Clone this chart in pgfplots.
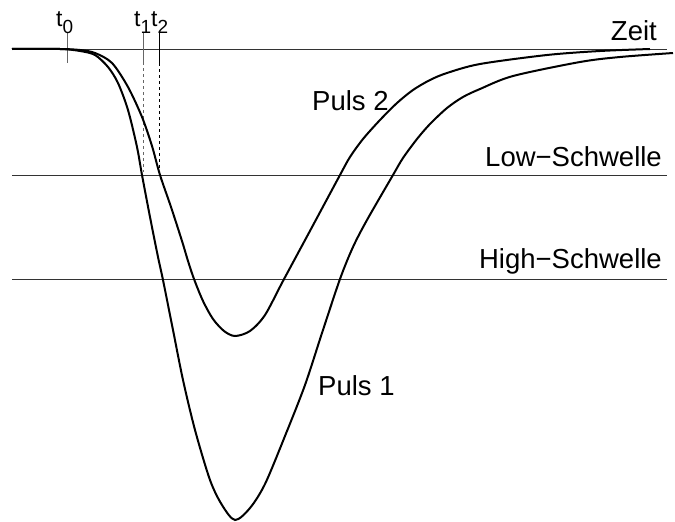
\documentclass[border=0pt]{standalone}
\usepackage{pgfplots}
\pgfplotsset{compat=1.18}
\usepackage{fontspec}
\setmainfont{Liberation Sans}

% pulse shapes in pixel units (y grows downwards)
\pgfplotstableread{
x y
12 49
60 49
80 51
95 55
108 67
118 83
128 110
137 147
142 175
150 217
158 257
163 280
173 330
183 380
195 430
210 480
222 505
235 520
250 508
265 484
285 436
305 385
322 333
340 279
353 247
367 220
393 175
403 158
417 139
430 124
447 108
463 97
480 89
513 76
580 62
620 57
673 53
}\pulseone

\pgfplotstableread{
x y
12 49
60 49
80 50
95 53
112 63
128 87
142 117
152 146
160 175
171 207
182 241
188 261
194 279
203 301
213 319
224 331
235 336
250 331
265 315
283 281
311 229
340 175
350 157
363 139
380 120
397 103
413 90
430 80
447 73
480 64
547 55
600 51
650 49
}\pulsetwo

\begin{document}
\begin{tikzpicture}[
  tl/.style={anchor=base west, inner sep=0pt, font=\fontsize{23}{25}\selectfont},
  lb/.style={inner sep=0pt, font=\fontsize{27.5}{30}\selectfont},
]
\begin{axis}[
  width=675pt, height=522pt, scale only axis,
  xmin=0, xmax=675, ymin=0, ymax=522, y dir=reverse,
  hide axis, clip=false,
]
\path (axis cs:0,0) rectangle (axis cs:675,522);

% thresholds and time axis
\addplot[black!80, line width=1pt] coordinates {(12,49) (667,49)};
\addplot[black!80, line width=1pt] coordinates {(12,175) (667,175)};
\addplot[black!80, line width=1pt] coordinates {(12,279) (667,279)};

% time marks
\addplot[black!60, line width=1pt] coordinates {(67,33) (67,63)};
\addplot[black!60, line width=1pt] coordinates {(143,33) (143,62)};
\addplot[black!60, line width=1pt, dashed] coordinates {(143,62) (143,172)};
\addplot[black, line width=1pt] coordinates {(159,33) (159,63)};
\addplot[black, line width=1pt, dashed] coordinates {(159,63) (159,172)};

% the two pulses
\addplot[black, line width=2pt, smooth, tension=0.5] table {\pulseone};
\addplot[black, line width=2pt, smooth, tension=0.5] table {\pulsetwo};

\node[tl] at (axis cs:56,27) {t\raisebox{-6pt}{\fontsize{19}{21}\selectfont 0}};
\node[tl] at (axis cs:134,27) {t\raisebox{-6pt}{\fontsize{19}{21}\selectfont 1}};
\node[tl] at (axis cs:151,27) {t\raisebox{-6pt}{\fontsize{19}{21}\selectfont 2}};

\node[lb, anchor=base east] at (axis cs:657,40) {Zeit};
\node[lb, anchor=base east] at (axis cs:662,166) {Low−Schwelle};
\node[lb, anchor=base east] at (axis cs:662,268) {High−Schwelle};
\node[lb, anchor=base west] at (axis cs:312,110) {Puls 2};
\node[lb, anchor=base west] at (axis cs:318,395) {Puls 1};
\end{axis}
\end{tikzpicture}
\end{document}
